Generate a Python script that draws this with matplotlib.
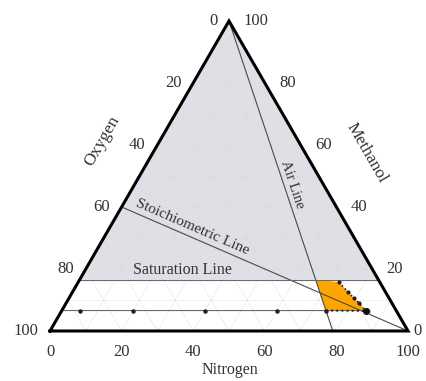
import numpy as np
import matplotlib.pyplot as plt

plt.rcParams['font.family'] = ['Liberation Serif', 'DejaVu Serif']

# compositions in percent (nitrogen, oxygen, methanol)
air_n2 = 79.0
stoich_meoh = 40.0
saturation_meoh = 16.5
lfl_meoh = 6.6

# points measured along the lower flammability line (nitrogen %)
lfl_points_n2 = [5, 20, 40, 60]

# upper edge of the flammable zone (nitrogen, oxygen, methanol)
edge_n2 = [72.8, 76.9, 79.6, 81.8, 85.0]
edge_o2 = [11.4, 10.5, 9.8, 9.2, 8.5]
edge_meoh = [15.8, 12.6, 10.6, 9.0, 6.5]

ticks = [0, 20, 40, 60, 80, 100]

S3 = np.sqrt(3) / 2


def xy(n, o, m):
    tot = n + o + m
    n, m = 100 * n / tot, 100 * m / tot
    return n + m / 2, m * S3


def on_air(m):
    # point on the air line with methanol fraction m
    t = 1 - m / 100
    return air_n2 * t, (100 - air_n2) * t, m


fig = plt.figure(figsize=(4.26, 3.81), dpi=100)
ax = fig.add_axes([0, 0, 1, 1])
ax.set_xlim(-13.97, 105.03)
ax.set_ylim(-13.97, 92.46)
ax.axis('off')

# shaded region above the saturation line
grey = [xy(0, 100 - saturation_meoh, saturation_meoh),
        xy(100 - saturation_meoh, 0, saturation_meoh), xy(0, 0, 100)]
ax.add_patch(plt.Polygon(grey, closed=True, fc='#dfe0e5', ec='none', zorder=0))

# faint grid
for k in range(10, 100, 10):
    for a, b in [((k, 0, 100 - k), (k, 100 - k, 0)),
                 ((0, k, 100 - k), (100 - k, k, 0)),
                 ((0, 100 - k, k), (100 - k, 0, k))]:
        p, q = xy(*a), xy(*b)
        ax.plot([p[0], q[0]], [p[1], q[1]], color='#d6d6dc', lw=0.5,
                ls=(0, (2, 2)), zorder=1)

# flammable zone
zone = [xy(*on_air(saturation_meoh))]
zone += [xy(n, o, m) for n, o, m in zip(edge_n2, edge_o2, edge_meoh)]
zone += [xy(*on_air(lfl_meoh))]
ax.add_patch(plt.Polygon(zone, closed=True, fc='#ffa500', ec='none', zorder=2))

lc = '#4a4a4a'
# air line
p, q = xy(0, 0, 100), xy(air_n2, 100 - air_n2, 0)
ax.plot([p[0], q[0]], [p[1], q[1]], color=lc, lw=0.8, zorder=3)
# stoichiometric line
p, q = xy(0, 100 - stoich_meoh, stoich_meoh), xy(100, 0, 0)
ax.plot([p[0], q[0]], [p[1], q[1]], color=lc, lw=0.8, zorder=3)
# saturation line
p, q = xy(0, 100 - saturation_meoh, saturation_meoh), xy(100 - saturation_meoh, 0, saturation_meoh)
ax.plot([p[0], q[0]], [p[1], q[1]], color='#6a6a6a', lw=0.8, zorder=3)
# lower flammability line
p, q = xy(0, 100 - lfl_meoh, lfl_meoh), xy(edge_n2[-1], edge_o2[-1], lfl_meoh)
ax.plot([p[0], q[0]], [p[1], q[1]], color='#6a6a6a', lw=0.8, zorder=3)
pts = [xy(n, 100 - lfl_meoh - n, lfl_meoh) for n in lfl_points_n2]
ax.plot([a for a, b in pts], [b for a, b in pts], 'o', color='#222', ms=2.2, zorder=4)

# dotted boundary of the zone
ex, ey = zip(*[xy(n, o, m) for n, o, m in zip(edge_n2, edge_o2, edge_meoh)])
ax.plot(ex, ey, ls=':', color='#222', lw=1.2, marker='o', ms=2, zorder=4)
b0, b1 = xy(*on_air(lfl_meoh)), xy(edge_n2[-1], edge_o2[-1], edge_meoh[-1])
ax.plot([b0[0], b1[0]], [b0[1], b1[1]], ls=':', color='#222', lw=1.4, zorder=4)
ax.plot([b0[0]], [b0[1]], 'o', color='#222', ms=2.2, zorder=4)
ax.plot([b1[0]], [b1[1]], 'o', color='#111', ms=4, zorder=5)
g = xy(edge_n2[-1] + 2, edge_o2[-1], edge_meoh[-1])
ax.plot([g[0]], [g[1]], 'o', color='#bbbbbb', ms=4, zorder=4)

# triangle outline
tri = [xy(0, 100, 0), xy(100, 0, 0), xy(0, 0, 100), xy(0, 100, 0)]
ax.plot([a for a, b in tri], [b for a, b in tri], color='black', lw=2.2,
        solid_joinstyle='miter', zorder=6)

fs = 12
tc = '#333333'
for t in ticks:
    x, y = xy(t, 100 - t, 0)
    ax.text(x, -5.9, str(t), ha='center', va='center', fontsize=fs, color=tc)
    x, y = xy(0, t, 100 - t)
    ax.text(x - 3.3, y, str(t), ha='right', va='center', fontsize=fs, color=tc)
    x, y = xy(100 - t, 0, t)
    dx = 4.0 if t else 1.5
    ax.text(x + dx, y, str(t), ha='left', va='center', fontsize=fs, color=tc)

ax.text(50.3, -10.9, 'Nitrogen', ha='center', va='center', fontsize=11.5, color=tc)
ax.text(14.6, 53.1, 'Oxygen', ha='center', va='center', fontsize=12.5, rotation=60,
        color=tc)
ax.text(88.5, 49.7, 'Methanol', ha='center', va='center', fontsize=12.5, rotation=-60,
        color=tc)

ang_air = np.degrees(np.arctan2(-100 * S3, air_n2 - 50))
ax.text(67.6, 40.8, 'Air Line', ha='center', va='center', fontsize=10.5,
        rotation=ang_air, rotation_mode='anchor', color=tc)
ang_st = np.degrees(np.arctan2(-stoich_meoh * S3, 100 - stoich_meoh / 2))
ax.text(39.7, 29.05, 'Stoichiometric Line', ha='center', va='center', fontsize=11,
        rotation=ang_st, rotation_mode='anchor', color=tc)
ax.text(36.9, saturation_meoh * S3 + 0.6, 'Saturation Line', ha='center', va='bottom',
        fontsize=11.5, color=tc)

fig.savefig('out.png', dpi=100)
